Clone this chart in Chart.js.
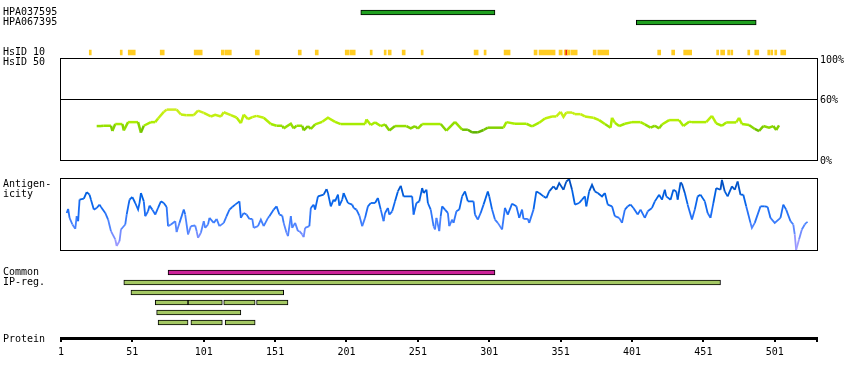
<!DOCTYPE html>
<html><head><meta charset="utf-8">
<script src="https://cdn.jsdelivr.net/npm/chart.js@4.4.0/dist/chart.umd.min.js"></script>
<style>
html,body{margin:0;padding:0;background:#fff;}
#wrap{position:relative;width:850px;height:380px;overflow:hidden;background:#fff;}
#wrap canvas{position:absolute;left:0;top:0;}
.lbl{position:absolute;left:3px;font:10px/10px "DejaVu Sans Mono",monospace;color:#000;white-space:pre;}
</style></head><body>
<div id="wrap">
<canvas id="cTop" width="850" height="380"></canvas>
<canvas id="cHsid" width="850" height="380"></canvas>
<canvas id="cAnti" width="850" height="380"></canvas>
<canvas id="cIp" width="850" height="380"></canvas>
<canvas id="cProt" width="850" height="380"></canvas>
<div class="lbl" style="top:179px">Antigen-
icity</div>
</div>
<script>
// ---------- data ----------
const residueRange = [1, 530.6];
const topRows = ['HPA037595', 'HPA067395', ' ', '  ', 'HsID 10', 'HsID 50'];
const hpaNames = ['HPA037595', 'HPA067395'];
const hpaSpans = [[211, 305], [404, 488]];
const hsid10Spans = [[20.8,22.2],[42.5,43.9],[48.1,53.0],[70.5,73.3],[94.3,99.9],[113.3,115.4],[116.1,120.3],[137.1,139.9],[167.2,169.3],[179.1,181.2],[200.1,202.9],[203.6,207.1],[217.6,219.0],[227.4,228.8],[230.2,232.3],[240.0,242.1],[253.3,254.7],[290.4,293.2],[297.4,298.8],[311.4,315.6],[332.4,334.5],[335.9,347.1],[349.9,352.1],[353.5,354.2],[355.6,357.7],[358.4,362.6],[373.8,375.9],[377.0,384.7],[419.0,421.1],[428.8,430.9],[437.2,442.8],[460.3,461.7],[463.1,465.9],[468.0,469.4],[470.2,471.6],[482.1,483.5],[487.0,489.8],[496.1,497.5],[498.2,499.6],[501.0,502.4],[505.2,508.7]];
const hsid10HighSpans = [[354.2, 355.6]];

const hsid50Residues = [26,29,31,36,37,39,44,45,48,55,57,59,64,67,69,73,75,82,85,89,94,97,101,106,109,113,115,120,124,127,129,132,135,138,143,148,152,156,157,162,164,166,170,171,174,176,179,184,188,193,197,202,214,215,218,221,225,228,231,235,243,246,249,251,254,256,267,271,277,282,286,289,293,297,300,311,313,319,327,331,336,340,345,348,351,353,355,359,361,365,368,374,378,382,386,387,389,392,396,401,407,410,414,417,420,422,427,434,437,441,443,453,457,460,464,467,474,476,478,483,487,490,493,497,500,502,504];
const hsid50Percent = [33.6,33.6,33.9,33.9,28.7,35.6,35.6,29.3,37.5,37.5,27.1,33.9,37.5,37.5,41.1,47.6,49.9,49.9,45.0,44.4,44.4,48.9,46.7,43.1,44.7,43.1,47.3,44.4,42.1,36.5,45.0,40.5,42.4,43.7,41.8,35.6,33.9,33.9,31.3,35.9,31.3,33.9,33.9,29.3,33.6,30.7,35.2,37.8,41.8,37.8,35.6,35.6,35.6,40.1,34.6,37.2,33.6,35.2,29.3,33.6,33.6,31.3,33.6,31.0,35.6,35.6,35.6,29.0,37.8,30.0,30.0,27.4,27.4,29.7,32.0,32.0,37.5,35.9,35.9,33.3,36.9,41.1,43.1,43.1,47.6,42.7,47.0,47.0,45.4,45.4,43.1,41.8,39.5,35.6,32.0,41.8,36.9,33.6,35.9,37.5,37.5,35.2,32.0,33.9,31.3,35.2,39.5,39.5,33.6,37.8,37.5,37.5,43.7,36.2,33.9,37.2,37.2,41.8,35.6,34.6,30.7,28.7,33.6,32.0,33.6,29.7,34.2];
const hsid50Ticks = [0, 60, 100];

const antigenResidues = [5,6,7,9,11,12,13,14,17,19,21,22,24,26,28,29,32,34,36,39,40,42,43,46,47,49,51,53,55,56,57,59,60,62,63,65,67,69,71,73,75,76,78,81,82,84,87,88,90,92,95,96,97,99,101,102,104,105,108,110,112,115,117,119,121,123,126,127,129,131,133,135,136,139,141,143,146,147,150,152,154,156,157,159,160,162,163,165,167,168,170,171,172,175,176,178,179,181,185,187,188,190,192,193,195,196,198,199,202,205,206,208,210,212,214,216,218,221,223,225,227,228,230,231,233,235,237,239,241,247,248,250,252,254,255,257,258,260,262,263,264,266,267,268,270,272,273,275,276,278,280,282,284,286,290,291,293,295,297,300,301,303,305,307,310,312,314,317,320,322,324,325,328,329,332,334,336,339,341,343,346,348,350,353,355,357,359,361,364,366,368,369,371,373,375,377,380,382,384,387,389,392,394,396,398,400,402,405,407,410,412,415,417,420,422,424,425,428,430,432,433,435,436,438,440,443,445,447,449,452,454,456,458,460,463,464,466,468,471,473,475,477,479,481,484,485,487,491,494,496,498,501,505,507,509,512,514,515,516,518,520,522,523,524];
const antigenScores = [52.2,57.8,45.2,35.9,29.8,47.6,40.6,70.9,72.3,81.6,77.9,70.9,56.9,59.2,63.9,60.6,52.2,42.9,26.6,14.9,5.6,12.6,28.9,35.9,49.9,70.9,74.6,66.2,56.9,66.2,80.2,68.5,47.6,54.5,62.5,56.9,49.9,59.2,68.5,66.2,60.6,33.6,35.9,40.6,25.2,38.2,56.9,49.9,21.9,33.6,34.5,26.6,17.3,24.2,40.6,31.2,35.9,45.2,38.2,43.8,33.6,38.2,47.6,56.9,60.6,63.9,68.5,45.2,52.2,49.9,43.8,43.8,31.2,33.6,42.9,33.6,45.2,47.6,56.9,61.5,49.9,48.5,38.2,24.2,19.6,47.6,31.2,38.2,26.6,26.6,21.9,18.2,31.2,33.6,59.2,63.9,56.9,75.5,77.9,85.8,80.2,61.5,70.9,68.5,77.9,62.5,70.9,80.2,66.2,63.9,59.2,56.9,48.5,33.6,45.2,61.5,66.2,66.2,73.2,56.9,40.6,52.2,59.2,49.9,54.5,68.5,82.5,90.4,75.5,75.5,49.9,66.2,68.5,87.2,80.2,84.9,66.2,56.9,33.6,28.9,45.2,26.6,47.6,61.5,56.9,52.2,33.6,42.9,38.2,54.5,56.9,75.5,82.5,68.5,68.5,49.9,42.9,52.2,63.9,82.5,75.5,56.9,42.9,38.2,28.9,59.2,49.9,65.3,61.5,45.2,56.9,43.8,43.8,38.2,56.9,82.5,80.2,75.5,73.2,82.5,89.5,84.9,94.2,84.9,96.5,99.8,84.9,63.9,66.2,70.9,75.5,61.5,82.5,91.8,82.5,80.2,75.5,80.2,63.9,61.5,47.6,45.2,38.2,56.9,61.5,63.9,59.2,49.9,56.9,45.2,54.5,59.2,68.5,77.9,70.9,84.9,75.5,70.9,84.9,82.5,70.9,95.1,93.2,80.2,63.9,42.9,56.9,75.5,77.9,68.5,52.2,45.2,66.2,87.2,84.9,98.8,82.5,75.5,89.5,84.9,96.5,77.9,77.9,61.5,38.2,31.2,38.2,61.5,61.5,60.6,45.2,38.2,45.2,63.9,56.9,40.6,35.9,21.9,0,14.9,28.9,35.9,38.2,39.6];

const ipRows = ['Common', 'IP-reg.', ' ', '  ', '   ', '    '];
const commonSpans = [[76, 305]];
const ipSpans = [[45,463],[50,157],[67,90],[90,114],[115,137],[138,160],[68,127],[69,90],[92,114],[116,137]];
const ipSpanRows = [1, 2, 3, 3, 3, 3, 4, 5, 5, 5];
const proteinRows = ['Protein'];
const proteinTicks = [1, 51, 101, 151, 201, 251, 301, 351, 401, 451, 501];

// ---------- styling helpers ----------
const FONT = 'DejaVu Sans Mono';
Chart.defaults.font.family = FONT;
Chart.defaults.font.size = 10;
Chart.defaults.color = '#000';

const hsidStops = [[27, [90,176,0]], [31, [120,200,0]], [35, [164,236,0]], [42, [190,240,10]], [50, [206,238,34]]];
const antiStops = [[0, [184,168,255]], [15, [136,144,255]], [35, [76,132,255]], [55, [26,108,244]], [75, [0,98,230]], [95, [0,76,188]]];
function colorAt(stops, v) {
  if (v <= stops[0][0]) return 'rgb(' + stops[0][1].join(',') + ')';
  for (let i = 1; i < stops.length; i++) {
    if (v <= stops[i][0]) {
      const t = (v - stops[i-1][0]) / (stops[i][0] - stops[i-1][0]);
      const c = stops[i-1][1].map((a, k) => Math.round(a + (stops[i][1][k] - a) * t));
      return 'rgb(' + c.join(',') + ')';
    }
  }
  return 'rgb(' + stops[stops.length-1][1].join(',') + ')';
}

const frame = {
  id: 'frame',
  beforeDatasetsDraw(chart) {
    const {ctx, chartArea: a} = chart;
    ctx.save();
    ctx.strokeStyle = '#000';
    ctx.lineWidth = 1;
    ctx.strokeRect(a.left - 0.5, a.top - 0.5, a.right - a.left + 1, a.bottom - a.top + 1);
    ctx.restore();
  }
};

const hiddenX = () => ({type: 'linear', min: residueRange[0], max: residueRange[1], display: false});
const leftCat = (extra) => Object.assign({
  type: 'category', position: 'left',
  afterFit: s => { s.width = 58; },
  grid: {display: false}, border: {display: false},
  ticks: {crossAlign: 'far', padding: 0, autoSkip: false, color: '#000', font: {family: FONT, size: 10}}
}, extra || {});
const common = (pad) => ({
  responsive: false, animation: false, devicePixelRatio: 1,
  layout: {padding: pad},
  plugins: {legend: {display: false}, tooltip: {enabled: false}}
});

// ---------- top: antibodies + HsID 10 ----------
new Chart(document.getElementById('cTop'), {
  type: 'bar',
  data: {
    labels: topRows,
    datasets: [
      {data: hpaSpans.map((s, i) => ({x: s, y: hpaNames[i]})), backgroundColor: '#1fa01f', borderColor: '#000', borderWidth: 1, barThickness: 5},
      {data: hsid10Spans.map(s => ({x: s, y: 'HsID 10'})), backgroundColor: '#ffcc22', borderWidth: 0, barThickness: 5},
      {data: hsid10HighSpans.map(s => ({x: s, y: 'HsID 10'})), backgroundColor: '#ee1111', borderWidth: 0, barThickness: 5}
    ]
  },
  options: Object.assign(common({left: 3, right: 33, top: 7.5, bottom: 312.5}), {
    indexAxis: 'y',
    datasets: {bar: {grouped: false, borderSkipped: false}},
    scales: {x: hiddenX(), y: leftCat()}
  })
});

// ---------- HsID 50 identity ----------
new Chart(document.getElementById('cHsid'), {
  type: 'line',
  data: {datasets: [{
    data: hsid50Residues.map((r, i) => ({x: r, y: hsid50Percent[i]})),
    borderWidth: 2.5, pointRadius: 0, tension: 0,
    borderColor: '#a4ec00',
    segment: {borderColor: c => colorAt(hsidStops, (c.p0.parsed.y + c.p1.parsed.y) / 2)}
  }]},
  options: Object.assign(common({left: 61, right: 0, top: 59, bottom: 220}), {
    scales: {
      x: hiddenX(),
      y: {
        type: 'linear', min: 0, max: 100, position: 'right',
        afterFit: s => { s.width = 33; },
        afterBuildTicks: s => { s.ticks = hsid50Ticks.map(v => ({value: v})); },
        grid: {drawTicks: false, lineWidth: 1, color: c => (c.tick && c.tick.value === 60) ? '#000' : 'rgba(0,0,0,0)'},
        border: {display: false},
        ticks: {padding: 3, labelOffset: 1.5, color: '#000', font: {family: FONT, size: 10}, callback: v => v + '%'}
      }
    }
  }),
  plugins: [frame]
});

// ---------- antigenicity ----------
new Chart(document.getElementById('cAnti'), {
  type: 'line',
  data: {datasets: [{
    data: antigenResidues.map((r, i) => ({x: r, y: antigenScores[i]})),
    borderWidth: 1.8, pointRadius: 0, tension: 0,
    borderColor: '#1a6cf4',
    segment: {borderColor: c => colorAt(antiStops, (c.p0.parsed.y + c.p1.parsed.y) / 2)}
  }]},
  options: Object.assign(common({left: 61, right: 33, top: 179, bottom: 130}), {
    scales: {x: hiddenX(), y: {type: 'linear', min: 0, max: 100, display: false}}
  }),
  plugins: [frame]
});

// ---------- common / IP regions ----------
new Chart(document.getElementById('cIp'), {
  type: 'bar',
  data: {
    labels: ipRows,
    datasets: [
      {data: commonSpans.map(s => ({x: s, y: ipRows[0]})), backgroundColor: '#cc2299', borderColor: '#000', borderWidth: 1, barThickness: 5},
      {data: ipSpans.map((s, i) => ({x: s, y: ipRows[ipSpanRows[i]]})), backgroundColor: '#a4c864', borderColor: '#000', borderWidth: 1, barThickness: 5}
    ]
  },
  options: Object.assign(common({left: 3, right: 33, top: 267.5, bottom: 52.5}), {
    indexAxis: 'y',
    datasets: {bar: {grouped: false, borderSkipped: false}},
    scales: {x: hiddenX(), y: leftCat()}
  })
});

// ---------- protein axis ----------
new Chart(document.getElementById('cProt'), {
  type: 'bar',
  data: {labels: proteinRows, datasets: [{data: []}]},
  options: Object.assign(common({left: 3, right: 33, top: 334, bottom: 0}), {
    indexAxis: 'y',
    scales: {
      y: leftCat({ticks: {crossAlign: 'far', padding: 0, autoSkip: false, labelOffset: 3.5, color: '#000', font: {family: FONT, size: 10}}}),
      x: {
        type: 'linear', min: residueRange[0], max: residueRange[1], position: 'bottom',
        afterFit: s => { s.height = 42; },
        afterBuildTicks: s => { s.ticks = proteinTicks.concat([residueRange[1]]).map(v => ({value: v})); },
        grid: {drawOnChartArea: false, drawTicks: true, tickLength: 4, lineWidth: 2, color: '#000'},
        border: {display: true, color: '#000', width: 3},
        ticks: {padding: 4, autoSkip: false, maxRotation: 0, minRotation: 0, color: '#000', font: {family: FONT, size: 10},
          callback: v => proteinTicks.includes(v) ? String(v) : ''}
      }
    }
  })
});
</script>
</body></html>
